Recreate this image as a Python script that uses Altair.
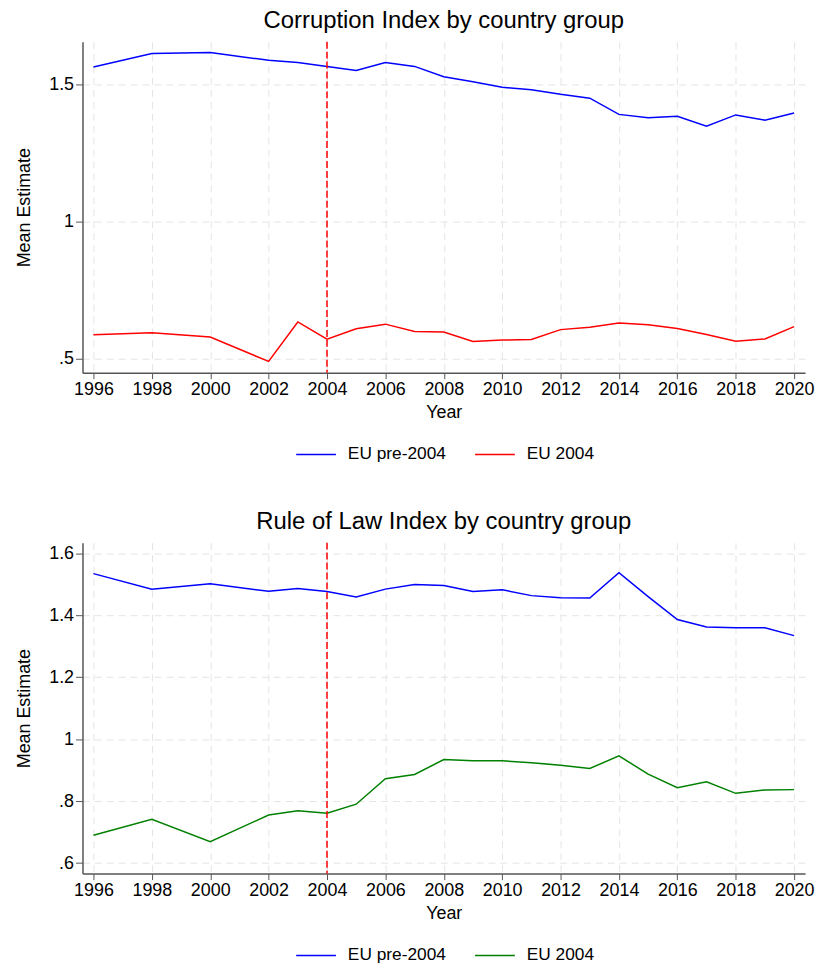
import altair as alt
import pandas as pd

# Survey years (no data for 1997, 1999, 2001)
years = [1996, 1998, 2000, 2002, 2003, 2004, 2005, 2006, 2007, 2008, 2009,
         2010, 2011, 2012, 2013, 2014, 2015, 2016, 2017, 2018, 2019, 2020]

# Control of Corruption, mean estimate per group
corr_pre2004 = [1.564, 1.613, 1.617, 1.588, 1.580, 1.566, 1.551, 1.580, 1.566,
                1.528, 1.510, 1.490, 1.481, 1.464, 1.450, 1.391, 1.379, 1.384,
                1.348, 1.389, 1.370, 1.396]
corr_eu2004 = [0.587, 0.595, 0.579, 0.490, 0.634, 0.571, 0.609, 0.626, 0.599,
               0.597, 0.563, 0.568, 0.570, 0.606, 0.615, 0.630, 0.624, 0.610,
               0.588, 0.564, 0.572, 0.617]

# Rule of Law, mean estimate per group
rol_pre2004 = [1.534, 1.484, 1.501, 1.477, 1.486, 1.476, 1.459, 1.484, 1.499,
               1.496, 1.476, 1.482, 1.463, 1.456, 1.455, 1.537, 1.460, 1.386,
               1.362, 1.359, 1.359, 1.334]
rol_eu2004 = [0.690, 0.741, 0.669, 0.755, 0.769, 0.761, 0.790, 0.872, 0.886,
              0.934, 0.930, 0.930, 0.924, 0.916, 0.905, 0.946, 0.887, 0.843,
              0.862, 0.825, 0.836, 0.837]

groups = ["EU pre-2004", "EU 2004"]
accession_year = [2004]
year_ticks = list(range(1996, 2021, 2))

FONT = "Liberation Sans"
AXIS_GREY = "#555555"
GRID_GREY = "#e4e4e4"
LABEL_SIZE = 18

# Stata-style labels: ".5", "1", "1.5"
Y_LABELS = ("datum.value == 1 ? '1' : (datum.value < 1 ? "
            "substring(format(datum.value, '.1f'), 1) : format(datum.value, '.1f'))")


def panel(title, pre, new, new_color, y_domain, y_ticks, legend_x):
    df = pd.DataFrame({
        "year": years * 2,
        "value": pre + new,
        "group": [groups[0]] * len(years) + [groups[1]] * len(years),
    })
    x = alt.X(
        "year:Q",
        title="Year",
        scale=alt.Scale(domain=[1995.625, 2020.375], nice=False, zero=False),
        axis=alt.Axis(values=year_ticks, format="d", tickSize=6, labelPadding=2,
                      titlePadding=5),
    )
    lines = alt.Chart(df).mark_line(strokeWidth=1.5).encode(
        x=x,
        y=alt.Y(
            "value:Q",
            title="Mean Estimate",
            scale=alt.Scale(domain=y_domain, nice=False, zero=False),
            axis=alt.Axis(values=y_ticks, labelExpr=Y_LABELS, tickSize=7,
                          labelPadding=2, titlePadding=15),
        ),
        color=alt.Color(
            "group:N",
            scale=alt.Scale(domain=groups, range=["#0000ff", new_color]),
            legend=alt.Legend(
                title=None, orient="none", direction="horizontal",
                legendX=legend_x, legendY=394, symbolType="stroke",
                symbolSize=1600, symbolStrokeWidth=1.5, labelOffset=11,
                columnPadding=26, padding=0, labelFontSize=17.4,
                labelFont=FONT, labelColor="black",
            ),
        ),
    )
    rule = alt.Chart(pd.DataFrame({"year": accession_year})).mark_rule(
        color="#ff0000", strokeDash=[7, 3], strokeWidth=1.5
    ).encode(x=alt.X("year:Q"))
    return alt.layer(lines, rule).properties(
        width=727, height=333,
        title=alt.TitleParams(title, fontSize=24, font=FONT, fontWeight="normal",
                              color="black", offset=8),
    )


top = panel("Corruption Index by country group", corr_pre2004, corr_eu2004,
            "#ff0000", [0.449, 1.656], [0.5, 1, 1.5], 214)
bottom = panel("Rule of Law Index by country group", rol_pre2004, rol_eu2004,
               "#008000", [0.566, 1.634], [0.6, 0.8, 1, 1.2, 1.4, 1.6], 214)

chart = alt.vconcat(top, bottom, spacing=47).resolve_scale(
    color="independent"
).configure(
    padding={"left": 15, "top": 6, "right": 0, "bottom": 0},
    background="white",
).configure_view(
    stroke=None
).configure_axis(
    labelFont=FONT, titleFont=FONT, labelFontSize=LABEL_SIZE, titleFontSize=LABEL_SIZE,
    labelColor="black", titleColor="black", titleFontWeight="normal",
    domainColor=AXIS_GREY, tickColor=AXIS_GREY, domainWidth=1.5, tickWidth=1,
    grid=True, gridColor=GRID_GREY, gridDash=[7, 5], gridWidth=1,
).configure_title(anchor="middle")

chart.save("out.html", embed_options={"renderer": "svg", "actions": False})
